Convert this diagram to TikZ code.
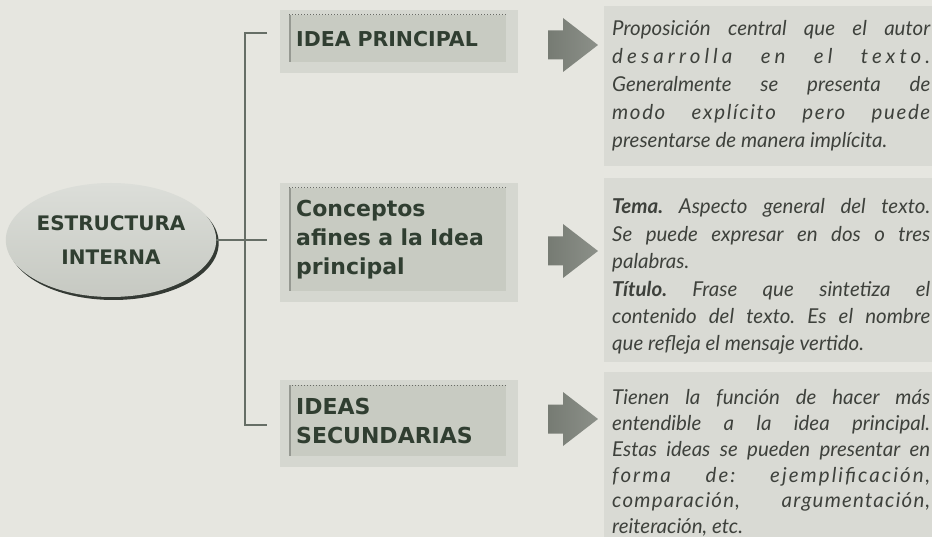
\documentclass[tikz,border=0pt]{standalone}
\usepackage{fontspec}
\setmainfont{Lato}
\newfontfamily\boxfont{DejaVu Sans}
\usetikzlibrary{shapes.geometric,shadows,backgrounds,positioning}
\tolerance=10000
\hbadness=10000
\frenchspacing

\definecolor{paper}{RGB}{230,230,224}
\definecolor{notefill}{RGB}{217,218,212}
\definecolor{halo}{RGB}{213,215,208}
\definecolor{boxfill}{RGB}{200,203,194}
\definecolor{boxedge}{RGB}{150,153,146}
\definecolor{inkgreen}{RGB}{48,62,49}
\definecolor{inkgray}{RGB}{62,65,60}
\definecolor{linkgray}{RGB}{102,110,102}
\definecolor{arrowdark}{RGB}{118,123,115}
\definecolor{arrowlight}{RGB}{140,144,137}
\definecolor{ellhi}{RGB}{220,222,217}
\definecolor{elllo}{RGB}{198,201,194}
\definecolor{shadowdark}{RGB}{52,58,52}

\tikzset{
  ideabox/.style={
    anchor=north west, minimum width=217pt, inner xsep=7pt, inner ysep=0pt,
    text width=203pt, align=left, fill=boxfill, text=inkgreen,
    font=\boxfont\bfseries\fontsize{22}{29}\selectfont
  },
  note/.style={
    anchor=base west, inner sep=0pt, text width=318pt, align=justify, text=inkgray,
    font=\itshape\fontsize{20.5}{#1}\selectfont
  },
  link/.style={draw=linkgray, line width=1.3pt},
}

% letter-spaced line inside a note
\newcommand{\spaced}[2]{{\addfontfeatures{LetterSpace=#1}#2}}

% block arrow: left end of the shaft at (#1,#2)
\newcommand{\blockarrow}[2]{%
  \shade[left color=arrowdark, right color=arrowlight]
    (#1,{#2-14.5}) -- ({#1+15},{#2-14.5}) -- ({#1+15},{#2-27}) -- ({#1+50},#2)
    -- ({#1+15},{#2+27}) -- ({#1+15},{#2+14.5}) -- (#1,{#2+14.5}) -- cycle;
}

\begin{document}
\begin{tikzpicture}[x=1pt,y=-1pt]
\useasboundingbox (0,0) rectangle (932,537);

% central ellipse
\node[ellipse, minimum width=206pt, minimum height=114pt, inner sep=0pt,
      top color=ellhi, bottom color=elllo,
      drop shadow={shadow xshift=2.5pt, shadow yshift=-3pt, fill=shadowdark, opacity=1},
      align=center, text=inkgreen,
      font=\boxfont\bfseries\fontsize{20}{34}\selectfont] (est) at (111,240) {ESTRUCTURA\\INTERNA};

% the three boxes
\node[ideabox, minimum height=47pt, font=\boxfont\bfseries\fontsize{20.5}{29}\selectfont] (ip) at (289,15) {IDEA PRINCIPAL};
\node[ideabox, minimum height=103pt] (ca) at (289,188) {Conceptos\\afines a la Idea\\principal};
\node[ideabox, minimum height=71pt] (is) at (289,385) {IDEAS\\SECUNDARIAS};

\foreach \b in {ip,ca,is} {
  \draw[dotted, line width=1pt, boxedge!70!black] (\b.north west) -- (\b.north east);
  \draw[line width=2pt, boxedge] ([xshift=1pt]\b.north west) -- ([xshift=1pt]\b.south west);
}

% connectors
\coordinate (t1) at (267,33);
\coordinate (t2) at (267,240);
\coordinate (t3) at (267,425);
\draw[link] (t1) -- ++(-22,0) |- (t3);
\draw[link] (est.east) -- (est.east -| t2);

% arrows
\blockarrow{548}{45}
\blockarrow{548}{251}
\blockarrow{548}{419}

% notes
\node[note=28] (n1) at (612,36) {Proposición central que el autor\linebreak
  \spaced{20}{desarrolla en el texto.}\linebreak
  Generalmente se presenta de\linebreak
  \spaced{8}{modo explícito pero puede}\linebreak
  presentarse de manera implícita.};
\node[note=27.4] (n2) at (612,214) {\textbf{Tema.} Aspecto general del texto.\linebreak
  Se puede expresar en dos o tres\linebreak
  palabras.\\
  \textbf{Título.} Frase que sintetiza el\linebreak
  contenido del texto. Es el nombre\linebreak
  que refleja el mensaje vertido.};
\node[note=26] (n3) at (612,404) {Tienen la función de hacer más\linebreak
  entendible a la idea principal.\linebreak
  Estas ideas se pueden presentar en\linebreak
  \spaced{10}{forma de: ejemplificación,}\linebreak
  \spaced{6}{comparación, argumentación,}\linebreak
  reiteración, etc.};

\begin{scope}[on background layer]
  \fill[paper] (0,0) rectangle (932,537);
  \fill[notefill] (604,6) rectangle (932,166);
  \fill[notefill] (604,178) rectangle (932,362);
  \fill[notefill] (604,372) rectangle (932,537);
  \foreach \b in {ip,ca,is}
    \fill[halo] ([shift={(-9,-5)}]\b.north west) rectangle ([shift={(12,11)}]\b.south east);
\end{scope}
\end{tikzpicture}
\end{document}
